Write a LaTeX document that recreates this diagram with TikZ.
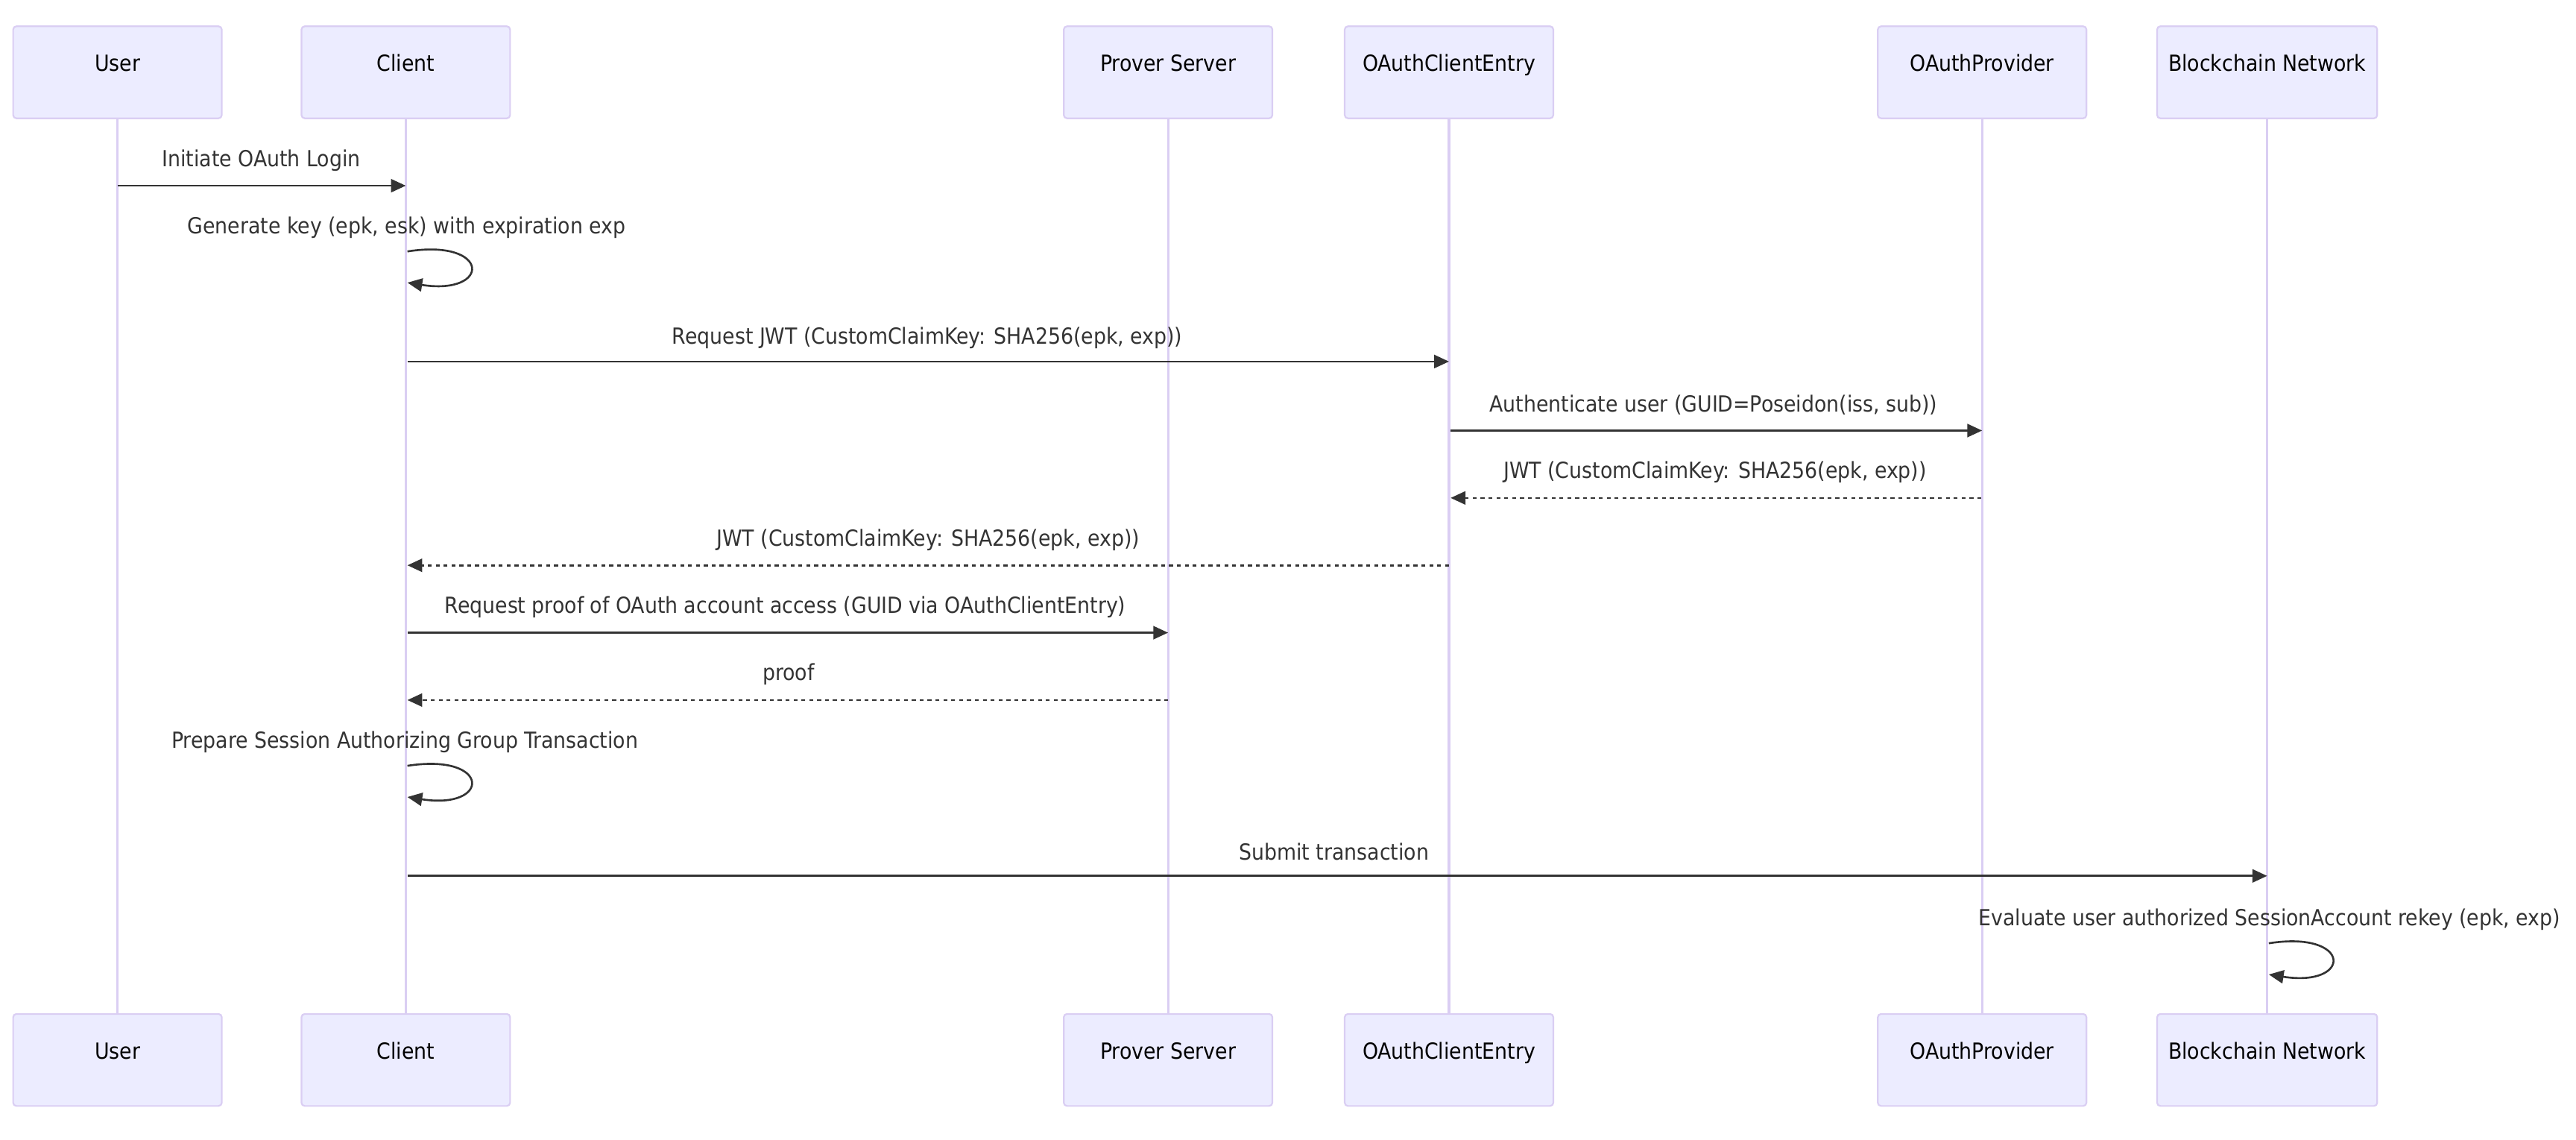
\documentclass[tikz,border=0pt]{standalone}
\usepackage{fontspec}
\setmainfont{DejaVu Sans Condensed}
\usetikzlibrary{arrows.meta}
\definecolor{actfill}{HTML}{ECECFF}
\definecolor{actline}{HTML}{DACEF3}
\definecolor{msgcol}{HTML}{333333}
\tikzset{
  actor/.style={draw=actline, fill=actfill, line width=1pt, rounded corners=2pt,
    minimum width=127pt, minimum height=56pt, inner sep=0pt, text height=10pt, text depth=11pt,
    font=\fontsize{13.5}{16}\selectfont, text=black},
  lifeline/.style={draw=actline, line width=1.4pt},
  msg/.style={draw=msgcol, line width=1.2pt, -{Triangle[length=9pt,width=8pt]}},
  reply/.style={msg, dash pattern=on 2.4pt off 2.4pt},
  lbl/.style={font=\fontsize{13.5}{16}\selectfont, text=msgcol, inner sep=0pt}
}
\begin{document}
\begin{tikzpicture}[x=1pt,y=-1pt]
\useasboundingbox (0,0) rectangle (1568,693.3);
% actors top
\node[actor] (userT) at (71.5,44) {User};
\node[actor] (clientT) at (247,44) {Client};
\node[actor] (proverT) at (711,44) {Prover Server};
\node[actor] (entryT) at (882,44) {OAuthClientEntry};
\node[actor] (provT) at (1206.5,44) {OAuthProvider};
\node[actor, minimum width=134pt] (chainT) at (1380,44) {Blockchain Network};
% actors bottom
\node[actor] (userB) at (71.5,645) {User};
\node[actor] (clientB) at (247,645) {Client};
\node[actor] (proverB) at (711,645) {Prover Server};
\node[actor] (entryB) at (882,645) {OAuthClientEntry};
\node[actor] (provB) at (1206.5,645) {OAuthProvider};
\node[actor, minimum width=134pt] (chainB) at (1380,645) {Blockchain Network};
% lifelines
\foreach \a in {user,client,prover,entry,prov,chain}{
  \draw[lifeline] (\a T.south) -- (\a B.north);
}
% message anchor coordinates
\coordinate (m1a) at (71.5,113);  \coordinate (m1b) at (247,113);
\coordinate (m2a) at (248,153);   \coordinate (m2b) at (248,172);
\coordinate (m3a) at (248,220);   \coordinate (m3b) at (882,220);
\coordinate (m4a) at (883,262);   \coordinate (m4b) at (1206.5,262);
\coordinate (m5a) at (1206,303);  \coordinate (m5b) at (883,303);
\coordinate (m6a) at (882,344);   \coordinate (m6b) at (248,344);
\coordinate (m7a) at (248,385);   \coordinate (m7b) at (711,385);
\coordinate (m8a) at (711,426);   \coordinate (m8b) at (248,426);
\coordinate (m9a) at (248,466);   \coordinate (m9b) at (248,485);
\coordinate (m10a) at (248,533);  \coordinate (m10b) at (1380,533);
\coordinate (m11a) at (1381,574); \coordinate (m11b) at (1381,593);
% messages
\draw[msg] (m1a) -- (m1b);
\node[lbl] (l1) at (159,97.5) {Initiate OAuth Login};
\draw[msg] (m2a) .. controls ++(51,-8) and ++(51,8) .. (m2b);
\node[lbl] (l2) at (247.5,138.5) {Generate key (epk, esk) with expiration exp};
\draw[msg] (m3a) -- (m3b);
\node[lbl] (l3) at (564.5,205.5) {Request JWT (CustomClaimKey: SHA256(epk, exp))};
\draw[msg] (m4a) -- (m4b);
\node[lbl] (l4) at (1043,246.5) {Authenticate user (GUID=Poseidon(iss, sub))};
\draw[reply] (m5a) -- (m5b);
\node[lbl] (l5) at (1044,287.5) {JWT (CustomClaimKey: SHA256(epk, exp))};
\draw[reply] (m6a) -- (m6b);
\node[lbl] (l6) at (565,328.5) {JWT (CustomClaimKey: SHA256(epk, exp))};
\draw[msg] (m7a) -- (m7b);
\node[lbl] (l7) at (478,369.5) {Request proof of OAuth account access (GUID via OAuthClientEntry)};
\draw[reply] (m8a) -- (m8b);
\node[lbl] (l8) at (480,410.5) {proof};
\draw[msg] (m9a) .. controls ++(51,-8) and ++(51,8) .. (m9b);
\node[lbl] (l9) at (246.5,451.5) {Prepare Session Authorizing Group Transaction};
\draw[msg] (m10a) -- (m10b);
\node[lbl] (l10) at (812,518.5) {Submit transaction};
\draw[msg] (m11a) .. controls ++(51,-8) and ++(51,8) .. (m11b);
\node[lbl] (l11) at (1381.5,559.5) {Evaluate user authorized SessionAccount rekey (epk, exp)};
\end{tikzpicture}
\end{document}
